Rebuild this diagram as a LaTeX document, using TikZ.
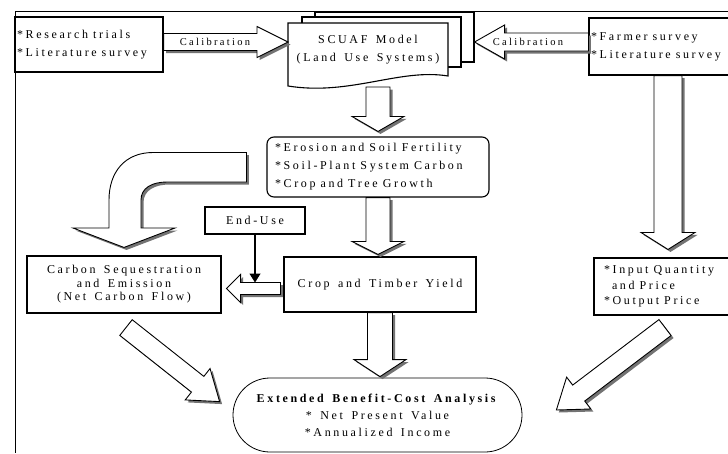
\documentclass[tikz,border=0pt]{standalone}
\usepackage{fontspec}
\setmainfont{Liberation Serif}[LetterSpace=22,WordSpace=1.5]
\usetikzlibrary{calc,shadows,arrows.meta}

% hollow block arrow: from #2 to #3, half shaft #4, half head #5, head length #6
\newcommand{\blockarrow}[6][]{%
  \path #2 coordinate (ba-s) #3 coordinate (ba-e);
  \coordinate (ba-n) at ($(ba-e)!#6!(ba-s)$);
  \draw[hollow,#1] ($(ba-s)!#4!90:(ba-e)$) -- ($(ba-n)!#4!90:(ba-e)$)
    -- ($(ba-n)!#5!90:(ba-e)$) -- (ba-e) -- ($(ba-n)!#5!-90:(ba-e)$)
    -- ($(ba-n)!#4!-90:(ba-e)$) -- ($(ba-s)!#4!-90:(ba-e)$) -- cycle;
}

\begin{document}
\begin{tikzpicture}[x=1pt,y=-1pt,
    box/.style={draw,line width=1.1pt,inner sep=2pt,fill=white},
    leftbox/.style={box,align=left,execute at begin node={\spaceskip=.42em plus .1em\relax}},
    page/.style={draw,line width=1.1pt,fill=white,inner sep=0pt},
    hollow/.style={draw,line width=0.9pt,fill=white,line join=miter,
      drop shadow={shadow xshift=2.5pt,shadow yshift=-2.5pt,fill=black!55,opacity=1}},
    txt/.style={font=\fontsize{12}{18}\selectfont},
    calib/.style={font=\fontsize{10.5}{12}\selectfont,inner sep=0pt}]
  \clip (0,0) rectangle (728,453);
  % frame
  \draw[line width=0.7pt] (728,11) -- (15,11) -- (15,453);

  % data sources
  \node[leftbox,txt,text width=144pt,minimum height=55pt] (research) at (89,44.5)
    {*Research trials\\{*}Literature survey};
  \node[leftbox,txt,text width=154pt,minimum height=57pt] (farmer) at (668,46.5)
    {*Farmer survey\\{*}Literature survey};

  % SCUAF model (stacked pages)
  \node[page,minimum width=159pt,minimum height=50pt] (page3) at (394.5,37) {};
  \node[page,minimum width=159pt,minimum height=50pt] (page2) at (381.5,42) {};
  \coordinate (docNW) at (288,23);
  \coordinate (docSE) at (448,76);
  \draw[page] (docNW) -- (docNW -| docSE) -- (docSE)
    .. controls (400,68) and (350,96) .. (288,86) -- cycle;
  \node[txt,align=center] (scuaf) at (368,50) {SCUAF Model\\(Land Use Systems)};

  \blockarrow{($(research.east)+(0,-2.5)$)}{($(research.east -| docNW)+(0,-2.5)$)}{8.5pt}{15.5pt}{31pt}
  \node[calib] (calibL) at (215,42) {Calibration};
  \blockarrow{($(farmer.west)+(0,-4.5)$)}{($(farmer.west -| page3.east)+(0,-4.5)$)}{9pt}{17pt}{30pt}
  \node[calib] (calibR) at (528,42) {Calibration};

  % model outputs
  \node[leftbox,txt,text width=206pt,inner xsep=8pt,minimum height=60pt,rounded corners=7pt] (soil) at (378,167)
    {*Erosion and Soil Fertility\\{*}Soil-Plant System Carbon\\{*}Crop and Tree Growth};
  \blockarrow{(soil.north |- 0,87)}{($(soil.north)+(0,-5)$)}{12pt}{26pt}{15pt}

  \node[box,txt,minimum width=192pt,minimum height=55pt] (crop) at (380,284.5) {Crop and Timber Yield};
  \blockarrow{(soil.south)}{($(soil.south |- crop.north)+(0,-2)$)}{12pt}{26pt}{13pt}

  \node[box,align=center,font=\fontsize{12}{13.5}\selectfont,minimum width=194pt,minimum height=57pt] (carbon) at (124,284.5)
    {Carbon Sequestration\\and Emission\\(Net Carbon Flow)};
  \node[leftbox,font=\fontsize{12}{15.5}\selectfont,text width=144pt,inner xsep=10pt,minimum height=57pt] (input) at (676,286.5)
    {*Input Quantity\\\hspace*{8pt}and Price\\{*}Output Price};
  \blockarrow{(farmer.south)}{($(farmer.south |- input.north)+(0,-8)$)}{14pt}{27pt}{17pt}

  \node[box,txt,minimum width=100pt,minimum height=27pt] (enduse) at (255,220.5) {End-Use};

  % carbon branch
  \draw[hollow] ($(soil.west)+(-20,-14.5)$) -- (153,152.5)
    .. controls (125,152.5) and (109,172) .. (109,200) -- (109,228) -- (73,228)
    -- ($(carbon.north)+(0,-8)$) -- (175,228) -- (141,228) -- (141,200)
    .. controls (141,188) and (152,182) .. (167,182) -- ($(soil.west)+(-20,15)$) -- cycle;
  \blockarrow{($(crop.west)+(-3,4)$)}{($(carbon.east)+(5,4)$)}{6pt}{14pt}{14pt}
  \draw[-{Triangle[width=11pt,length=9pt]},line width=1.2pt] (enduse) -- ($(enduse.south |- carbon.east)+(0,-2)$);

  % extended benefit-cost analysis
  \node[draw,line width=0.8pt,fill=white,rounded corners=37pt,minimum width=289pt,minimum height=74pt,
    align=center,font=\fontsize{12}{17}\selectfont] (cba) at (377.5,415)
    {\textbf{Extended Benefit-Cost Analysis}\\{*} Net Present Value\\{*}Annualized Income};
  \blockarrow{(crop.south)}{($(crop.south |- cba.north)+(0,-1)$)}{12.5pt}{26pt}{17pt}
  \blockarrow{($(carbon.south)+(2,14)$)}{($(cba.north west)+(-13,24)$)}{10pt}{20pt}{28pt}
  \blockarrow{($(input.south)+(-11,12)$)}{($(cba.east)+(34,-5)$)}{10pt}{20pt}{28pt}
\end{tikzpicture}
\end{document}
